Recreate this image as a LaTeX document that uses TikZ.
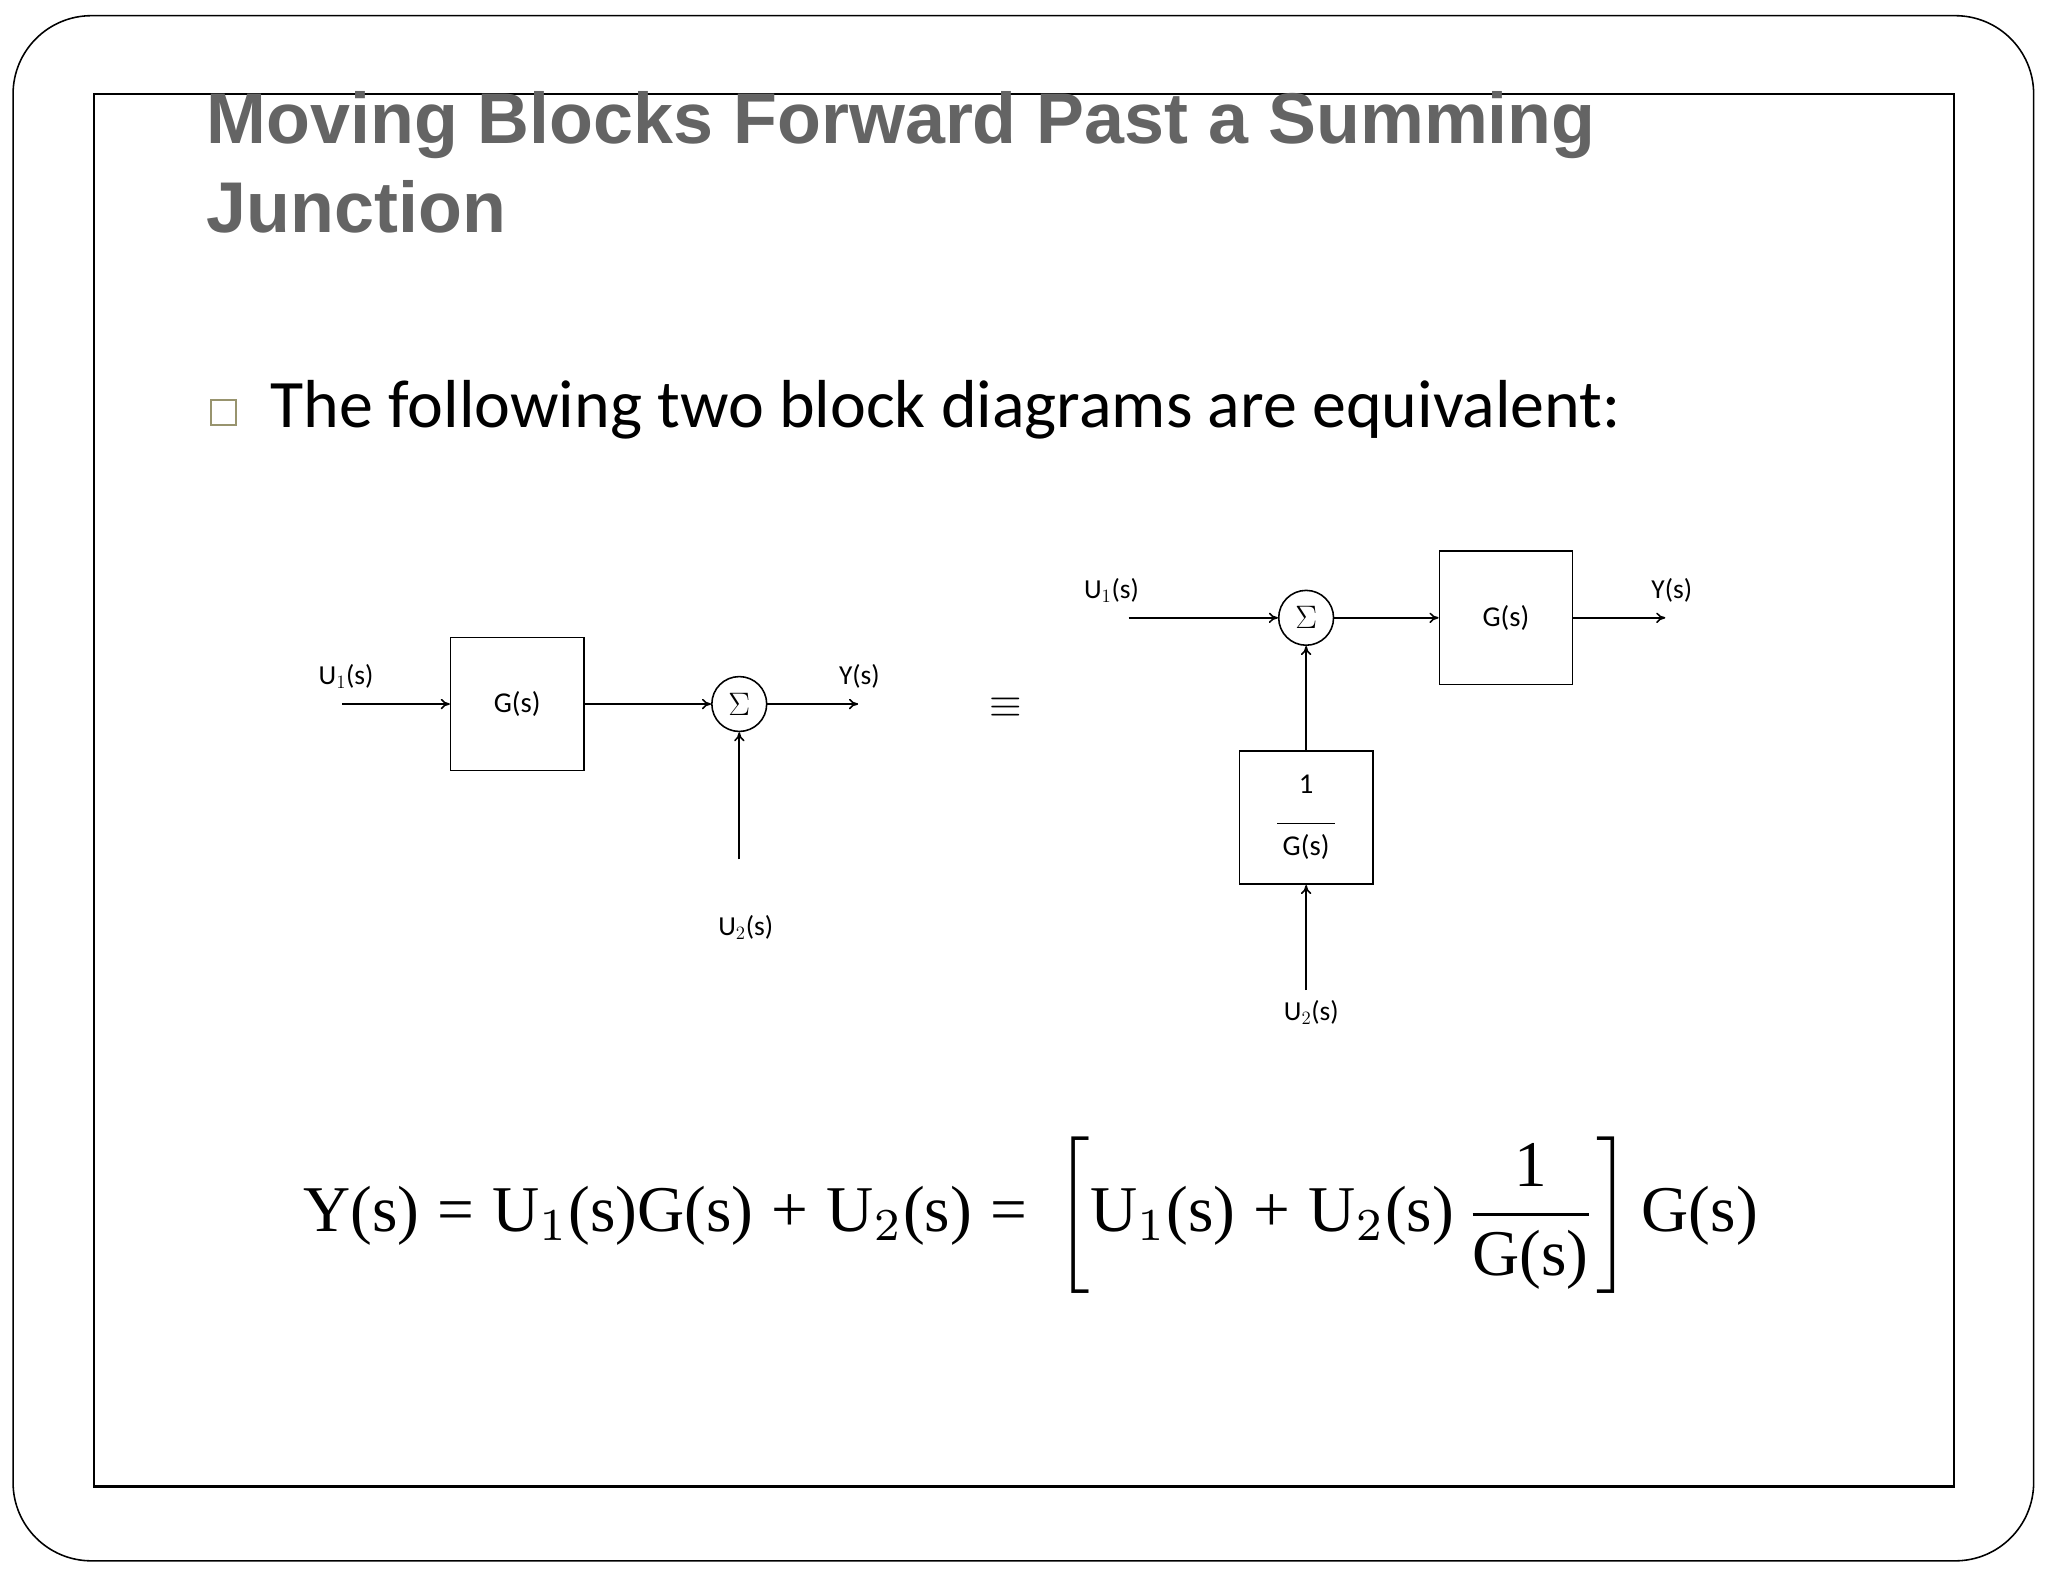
\documentclass[tikz,border=0pt]{standalone}
\usepackage{fontspec}
\usepackage{amsmath}
\setmainfont{Carlito}
\newfontfamily\titlefont{Liberation Sans}
\newfontfamily\eqfont{Liberation Serif}
\usetikzlibrary{arrows.meta}
\definecolor{titlegray}{RGB}{100,100,100}
\newcommand{\es}[1]{\text{\eqfont #1}}
\begin{document}
\begin{tikzpicture}[x=1pt,y=-1pt,
  blk/.style={draw,line width=1.2pt,minimum width=102pt,minimum height=102pt,inner sep=0pt,font=\fontsize{22}{26}\selectfont},
  sumc/.style={draw,circle,line width=1.2pt,minimum size=42pt,inner sep=0pt,font=\fontsize{24}{26}\selectfont},
  lbl/.style={font=\fontsize{21}{24}\selectfont},
  sig/.style={line width=1.2pt,-{To[length=7pt,width=8pt]}},
  ln/.style={line width=1.2pt}]
\useasboundingbox (0,0) rectangle (1568,1211);
\draw[line width=1.2pt,rounded corners=60pt] (10,12) rectangle (1557,1195);
\draw[line width=1.8pt] (72,72) rectangle (1496,1138);
% title
\node[anchor=base west,inner sep=0pt,text=titlegray,font=\titlefont\bfseries\fontsize{55}{60}\selectfont] (t1) at (158,110) {Moving Blocks Forward Past a Summing};
\node[anchor=base west,inner sep=0pt,text=titlegray,font=\titlefont\bfseries\fontsize{55}{60}\selectfont] (t2) at (158,178) {Junction};
% bullet
\node[draw=black!55!olive!60,line width=1.3pt,minimum size=19pt,inner sep=0pt] (bsq) at (171,316) {};
\node[anchor=base west,inner sep=0pt,font=\fontsize{52}{56}\selectfont] (bt) at (207,327) {The following two block diagrams are equivalent:};
% left diagram
\node[blk] (G1) at (396,539) {G(s)};
\node[sumc] (S1) at (566,539) {$\Sigma$};
\coordinate (u1a) at (262,539);
\coordinate (y1) at (657,539);
\coordinate (u2a) at (566,658);
\node[lbl] (lu1) at (265,518) {U$_1$(s)};
\node[lbl] (ly1) at (658,518) {Y(s)};
\node[lbl] (lu2) at (571,710) {U$_2$(s)};
\draw[sig] (u1a) -- (G1.west);
\draw[sig] (G1.east) -- (S1.west);
\draw[sig] (S1.east) -- (y1);
\draw[sig] (u2a) -- (S1.south);
% equivalence
\node (eq) at (770,542) {\scalebox{3.2}{$\equiv$}};
% right diagram
\node[sumc] (S2) at (1000,473) {$\Sigma$};
\node[blk] (G2) at (1153,473) {G(s)};
\node[blk] (H) at (1000,626) {\begin{tabular}{@{}c@{}}1\\[-2pt]\rule{44pt}{0.8pt}\\[-2pt]G(s)\end{tabular}};
\coordinate (u1b) at (864,473);
\coordinate (y2) at (1275,473);
\coordinate (u2b) at (1000,758);
\node[lbl] (lu1b) at (851,452) {U$_1$(s)};
\node[lbl] (ly2) at (1280,452) {Y(s)};
\node[lbl] (lu2b) at (1004,775) {U$_2$(s)};
\draw[sig] (u1b) -- (S2.west);
\draw[sig] (S2.east) -- (G2.west);
\draw[sig] (G2.east) -- (y2);
\draw[sig] (H.north) -- (S2.south);
\draw[sig] (u2b) -- (H.south);
% equation
\node[inner sep=0pt] (eqn) at (789,930) {\resizebox{1113pt}{!}{$\es{Y(s)}\;\es{=}\;\es{U}_1\es{(s)G(s)}\;\es{+}\;\es{U}_2\es{(s)}\;\es{=}\;\left[\es{U}_1\es{(s)}\;\es{+}\;\es{U}_2\es{(s)}\,\dfrac{\es{1}}{\es{G(s)}}\right]\es{G(s)}$}};
\end{tikzpicture}
\end{document}
